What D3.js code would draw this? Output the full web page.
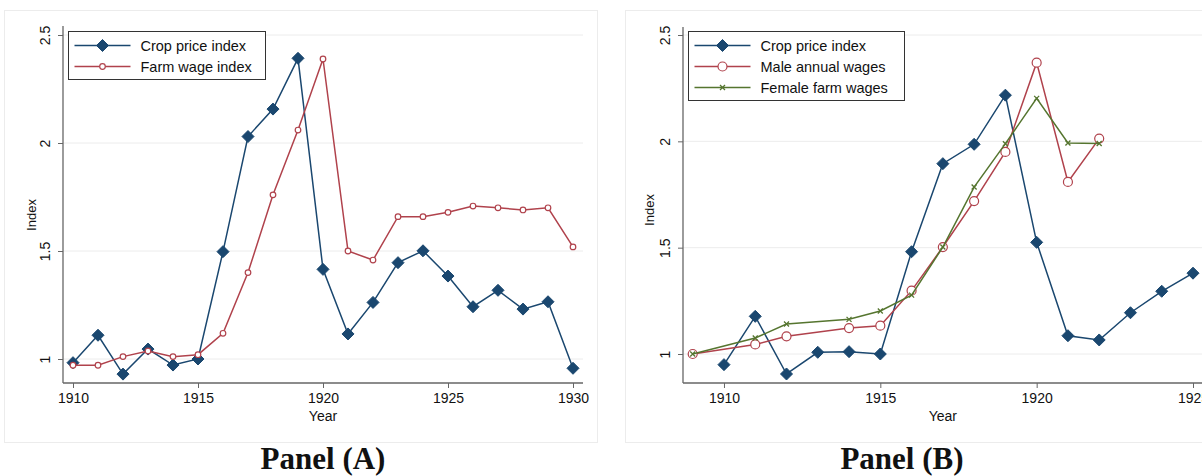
<!DOCTYPE html>
<html>
<head>
<meta charset="utf-8">
<script src="https://cdn.jsdelivr.net/npm/d3@7"></script>
<style>
  body { margin: 0; background: #fff; }
  svg text { font-family: "Liberation Sans", Arial, sans-serif; fill: #111; }
</style>
</head>
<body>
<div id="chart"></div>
<script>
// Panel A data
const yearsA = d3.range(1910, 1931);
const cropA = [0.983, 1.11, 0.93, 1.046, 0.972, 1.0, 1.497, 2.03, 2.157, 2.392, 1.415,
               1.116, 1.262, 1.446, 1.501, 1.384, 1.242, 1.318, 1.231, 1.265, 0.957];
const wageA = [0.971, 0.971, 1.011, 1.037, 1.011, 1.02, 1.119, 1.40, 1.76, 2.06, 2.389,
               1.50, 1.458, 1.659, 1.659, 1.679, 1.708, 1.70, 1.69, 1.70, 1.519];

// Panel B data
const yearsCropB = d3.range(1910, 1926);
const cropB = [0.95, 1.177, 0.906, 1.008, 1.011, 1.0, 1.481, 1.895, 1.986, 2.217, 1.525,
               1.086, 1.066, 1.194, 1.295, 1.38];
const yearsWageB = [1909, 1911, 1912, 1914, 1915, 1916, 1917, 1918, 1919, 1920, 1921, 1922];
const maleB = [1.0, 1.045, 1.083, 1.122, 1.133, 1.298, 1.503, 1.719, 1.95, 2.37, 1.809, 2.013];
const femaleB = [1.0, 1.075, 1.141, 1.163, 1.202, 1.277, 1.503, 1.785, 1.989, 2.202, 1.992, 1.99];

const yTicks = [1, 1.5, 2, 2.5];
const xTicks = [1910, 1915, 1920, 1925, 1930];
const captions = ["Panel (A)", "Panel (B)"];

const BLUE = "#1a476f", RED = "#b0424c", GREEN = "#55752f";

const svg = d3.select("#chart").append("svg")
    .attr("width", 1202).attr("height", 476);

svg.append("rect").attr("width", 1202).attr("height", 476).attr("fill", "#fff");

function drawPanel(cfg) {
    const g = svg.append("g");

    // outer frame
    g.append("rect")
        .attr("x", cfg.frame[0]).attr("y", cfg.frame[1])
        .attr("width", cfg.frame[2]).attr("height", cfg.frame[3])
        .attr("fill", "none").attr("stroke", "#ececec").attr("stroke-width", 1);

    const x = d3.scaleLinear().domain(cfg.xDom).range(cfg.xRange);
    const y = d3.scaleLinear().domain([1, 2.5]).range(cfg.yRange);

    // gridlines
    g.selectAll("line.grid").data(yTicks).enter().append("line")
        .attr("x1", cfg.axisX).attr("x2", cfg.plotRight)
        .attr("y1", d => y(d)).attr("y2", d => y(d))
        .attr("stroke", "#ececec").attr("stroke-width", 1);

    // y axis
    const ya = g.append("g")
        .attr("transform", `translate(${cfg.axisX},0)`)
        .call(d3.axisLeft(y).tickValues(yTicks).tickSize(5).tickFormat(d3.format("")));
    ya.select(".domain").remove();
    ya.selectAll(".tick line").attr("stroke", "#666");
    ya.selectAll(".tick text")
        .attr("x", 0).attr("dy", 0)
        .attr("transform", "rotate(-90) translate(0,-13)")
        .style("text-anchor", "middle")
        .style("font-size", "14px")
        .attr("fill", "#111");
    g.append("line")
        .attr("x1", cfg.axisX).attr("x2", cfg.axisX)
        .attr("y1", cfg.axisTop).attr("y2", cfg.axisY)
        .attr("stroke", "#666").attr("stroke-width", 1.3);

    // x axis
    const xa = g.append("g")
        .attr("transform", `translate(0,${cfg.axisY})`)
        .call(d3.axisBottom(x).tickValues(xTicks).tickSize(5).tickFormat(d3.format("d")));
    xa.select(".domain").remove();
    xa.selectAll(".tick line").attr("stroke", "#666");
    xa.selectAll(".tick text").style("font-size", "14px").attr("dy", "0.72em").attr("y", 10).attr("fill", "#111");
    g.append("line")
        .attr("x1", cfg.axisX).attr("x2", cfg.plotRight)
        .attr("y1", cfg.axisY).attr("y2", cfg.axisY)
        .attr("stroke", "#666").attr("stroke-width", 1.3);

    // axis titles
    g.append("text")
        .attr("x", x(cfg.yearTitleX)).attr("y", cfg.axisY + 38)
        .attr("text-anchor", "middle").style("font-size", "14px").text("Year");
    g.append("text")
        .attr("transform", `translate(${cfg.indexX},${cfg.indexY}) rotate(-90)`)
        .attr("text-anchor", "middle").style("font-size", "13px").text("Index");

    // series
    cfg.series.forEach(s => {
        const pts = s.years.map((yr, i) => [yr, s.values[i]]);
        g.append("path")
            .datum(pts)
            .attr("fill", "none").attr("stroke", s.color).attr("stroke-width", 1.5)
            .attr("d", d3.line().x(d => x(d[0])).y(d => y(d[1])));
        const mg = g.append("g");
        pts.forEach(d => drawMarker(mg, s.marker, x(d[0]), y(d[1]), s.color, s.size));
    });

    // legend
    const lg = g.append("g");
    lg.append("rect")
        .attr("x", cfg.legend.x).attr("y", cfg.legend.y)
        .attr("width", cfg.legend.w).attr("height", cfg.legend.h)
        .attr("fill", "#fff").attr("stroke", "#333").attr("stroke-width", 1);
    cfg.series.forEach((s, i) => {
        const ly = cfg.legend.y + 14 + i * cfg.legend.step;
        const lx = cfg.legend.x + 6;
        lg.append("line").attr("x1", lx).attr("x2", lx + 56)
            .attr("y1", ly).attr("y2", ly)
            .attr("stroke", s.color).attr("stroke-width", 1.5);
        drawMarker(lg, s.marker, lx + 28, ly, s.color, s.size);
        lg.append("text").attr("x", lx + 66).attr("y", ly + 5)
            .style("font-size", "14.5px").text(s.name);
    });
}

function drawMarker(g, type, cx, cy, color, size) {
    if (type === "diamond") {
        g.append("path")
            .attr("d", `M${cx},${cy - size}L${cx + size},${cy}L${cx},${cy + size}L${cx - size},${cy}Z`)
            .attr("fill", color).attr("stroke", color).attr("stroke-width", 1);
    } else if (type === "circle") {
        g.append("circle").attr("cx", cx).attr("cy", cy).attr("r", size)
            .attr("fill", "#fff").attr("stroke", color).attr("stroke-width", 1.2);
    } else if (type === "x") {
        g.append("path")
            .attr("d", `M${cx - size},${cy - size}L${cx + size},${cy + size}M${cx - size},${cy + size}L${cx + size},${cy - size}`)
            .attr("stroke", color).attr("stroke-width", 1.3);
    }
}

drawPanel({
    frame: [4.5, 10.5, 593, 432],
    xDom: [1910, 1930], xRange: [73, 573],
    yRange: [359, 35],
    axisX: 63, axisY: 383, axisTop: 26, plotRight: 583,
    yearTitleX: 1920, indexX: 36, indexY: 215,
    legend: { x: 68.5, y: 31.5, w: 197, h: 48, step: 21 },
    series: [
        { name: "Crop price index", years: yearsA, values: cropA, color: BLUE, marker: "diamond", size: 6 },
        { name: "Farm wage index", years: yearsA, values: wageA, color: RED, marker: "circle", size: 2.8 }
    ]
});

drawPanel({
    frame: [625.5, 10.5, 600, 432],
    xDom: [1909, 1925], xRange: [692.7, 1193],
    yRange: [354, 35],
    axisX: 683, axisY: 383, axisTop: 27, plotRight: 1210,
    yearTitleX: 1917, indexX: 654, indexY: 210,
    legend: { x: 688.5, y: 31.5, w: 216, h: 69, step: 21 },
    series: [
        { name: "Crop price index", years: yearsCropB, values: cropB, color: BLUE, marker: "diamond", size: 6 },
        { name: "Male annual wages", years: yearsWageB, values: maleB, color: RED, marker: "circle", size: 4.5 },
        { name: "Female farm wages", years: yearsWageB, values: femaleB, color: GREEN, marker: "x", size: 2.5 }
    ]
});

// panel captions
svg.selectAll("text.caption")
    .data(captions.map((c, i) => [c, [323, 902][i]]))
    .enter().append("text")
    .attr("class", "caption")
    .attr("x", d => d[1]).attr("y", 469)
    .attr("text-anchor", "middle")
    .style("font-family", "'Liberation Serif', serif")
    .style("font-size", "31px")
    .style("font-weight", "bold")
    .text(d => d[0]);
</script>
</body>
</html>
